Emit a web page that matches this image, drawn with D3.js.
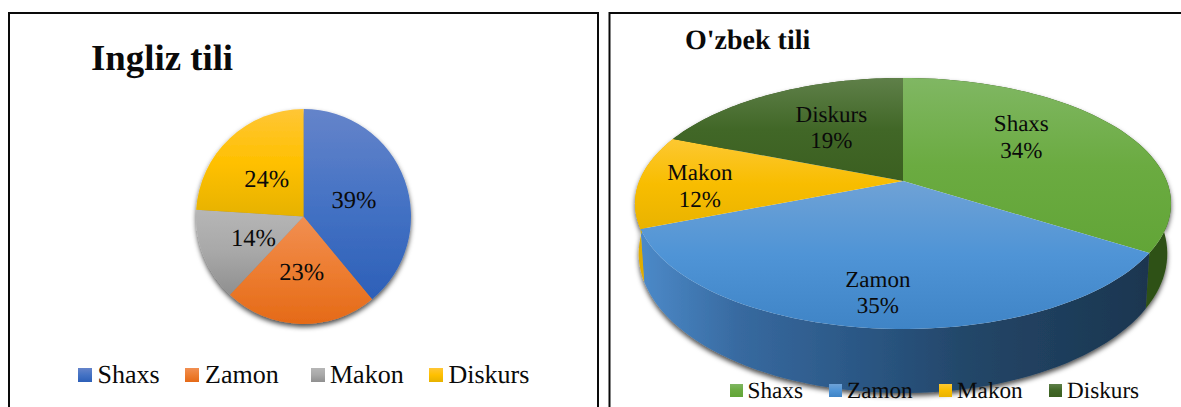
<!DOCTYPE html>
<html>
<head>
<meta charset="utf-8">
<script src="https://cdn.jsdelivr.net/npm/d3@7"></script>
<style>
  html, body { margin: 0; background: #fff; overflow: hidden; }
  text { font-family: "Liberation Serif", serif; fill: #0a0a0a; text-rendering: geometricPrecision; }
</style>
</head>
<body>
<svg id="chart"></svg>
<script>
const categories = ["Shaxs", "Zamon", "Makon", "Diskurs"];
const inglizValues = [39, 23, 14, 24];
const ozbekValues = [34, 35, 12, 19];
const inglizTitle = "Ingliz tili";
const ozbekTitle = "O'zbek tili";

// [top, middle, bottom] of each slice gradient
const inglizColors = [["#6584ca", "#4472c4", "#2d60b8"], ["#f18f52", "#ed7d31", "#e56a17"], ["#b6b6b6", "#a8a8a8", "#8f8f8f"], ["#ffc636", "#ffc000", "#e6b200"]];
const ozbekColors = [["#80b763", "#6bab41", "#62a537"], ["#6fa2d6", "#4f94d6", "#3f84c6"], ["#fdc832", "#f8bd00", "#e9b300"], ["#5f8049", "#416727", "#3b5f20"]];

const w = 1181;
const h = 407;

const svg = d3.select("#chart").attr("width", w).attr("height", h).style("display", "block");
const defs = svg.append("defs");

const shadow = defs.append("filter").attr("id", "shadow")
  .attr("x", "-10%").attr("y", "-10%").attr("width", "120%").attr("height", "125%");
shadow.append("feDropShadow").attr("dx", 0).attr("dy", 3).attr("stdDeviation", 2.5)
  .attr("flood-color", "#000").attr("flood-opacity", 0.7);

const addGradient = (id, stops) => {
  const g = defs.append("linearGradient").attr("id", id).attr("x1", 0).attr("y1", 0).attr("x2", 0).attr("y2", 1);
  stops.forEach((c, i) => g.append("stop").attr("offset", i / (stops.length - 1)).attr("stop-color", c));
};
inglizColors.forEach((c, i) => addGradient("en" + i, c));
ozbekColors.forEach((c, i) => addGradient("uz" + i, c));

const frames = [[9, 589], [609.5, 600]];
frames.forEach(([x, fw]) => {
  svg.append("rect").attr("x", x).attr("y", 13).attr("width", fw).attr("height", 420)
    .attr("fill", "none").attr("stroke", "#0a0a0a").attr("stroke-width", 2);
});

const pie = d3.pie().sort(null);

const drawLegend = (prefix, items, size, fontSize, y, baseline, swatchX, textX) => {
  const g = svg.append("g").selectAll("g").data(items).enter().append("g");
  g.append("rect").attr("x", (d, i) => swatchX[i]).attr("y", y)
    .attr("width", size).attr("height", size)
    .attr("fill", (d, i) => `url(#${prefix}${i})`);
  g.append("text").attr("x", (d, i) => textX[i]).attr("y", baseline)
    .attr("font-size", fontSize).text((d) => d);
};

// flat pie
const enX = 303.5;
const enY = 216.5;
const enR = 107.5;
const enArc = d3.arc().innerRadius(0).outerRadius(enR);
const enLabel = d3.arc().innerRadius(enR * 0.5).outerRadius(enR * 0.5);
const enSlices = pie(inglizValues);

svg.append("text").attr("x", 91).attr("y", 70).attr("font-size", 36.8).attr("font-weight", "bold").text(inglizTitle);

const en = svg.append("g").attr("transform", `translate(${enX},${enY})`);
en.append("g").attr("filter", "url(#shadow)").selectAll("path").data(enSlices).enter().append("path")
  .attr("d", enArc).attr("fill", (d, i) => `url(#en${i})`);
en.selectAll("text").data(enSlices).enter().append("text")
  .attr("transform", (d) => `translate(${enLabel.centroid(d)})`)
  .attr("text-anchor", "middle").attr("dy", "0.38em").attr("font-size", 24.5)
  .text((d) => d.data + "%");

drawLegend("en", categories, 14, 26, 368, 383, [78, 185, 311, 429], [97.5, 205, 330, 448.5]);

// tilted pie, the disc goes through a perspective projection so its centre
// sits above the middle of the ellipse
const uzX = 903;
const project = (p) => (angle, t = 1) => {
  const u = Math.sin(angle) * t;
  const v = Math.cos(angle) * t;
  const d = 1 + p.k * v;
  return [uzX + p.a * u / d, p.cy - p.b * v / d];
};
const topFace = project({ a: 263.7, b: 121.5, cy: 181, k: 0.179 });
const bottomFace = project({ a: 260, b: 135, cy: 228.6, k: 0.179 });
const line = d3.line();
const arcPoints = (face, a0, a1) => d3.range(0, 61).map((i) => face(a0 + (a1 - a0) * i / 60));

const uzSlices = pie(ozbekValues);

svg.append("text").attr("x", 685).attr("y", 49).attr("font-size", 28).attr("font-weight", "bold").text(ozbekTitle);

const wallGrad = defs.append("linearGradient").attr("id", "wallZamon")
  .attr("gradientUnits", "userSpaceOnUse").attr("x1", 640).attr("y1", 0).attr("x2", 1146).attr("y2", 0);
[[0, "#4c8ac9"], [0.2, "#37699f"], [0.45, "#2a5683"], [0.65, "#234668"], [1, "#1b3650"]].forEach(([o, c]) => {
  wallGrad.append("stop").attr("offset", o).attr("stop-color", c);
});
const wallFill = ["#2f5116", "url(#wallZamon)", "#e0ad00", "#2f5116"];

svg.append("g").attr("filter", "url(#shadow)").selectAll("path").data(uzSlices).enter().append("path")
  .attr("d", (d) => line(arcPoints(topFace, d.startAngle, d.endAngle)
    .concat(arcPoints(bottomFace, d.startAngle, d.endAngle).reverse())) + "Z")
  .attr("fill", (d, i) => wallFill[i]);

svg.append("g").selectAll("path").data(uzSlices).enter().append("path")
  .attr("d", (d) => line([topFace(0, 0)].concat(arcPoints(topFace, d.startAngle, d.endAngle))) + "Z")
  .attr("fill", (d, i) => `url(#uz${i})`);

// how far out along the slice's middle each label sits, and a small nudge
const uzLabelT = [0.55, 0.8, 0.77, 0.6];
const uzNudge = [[-3, -14], [-2, -2], [0, 4], [10, 1]];
const uzLabels = svg.append("g").selectAll("text").data(uzSlices).enter().append("text")
  .attr("text-anchor", "middle").attr("font-size", 23);
const labelAt = (d, i) => {
  const [x, y] = topFace((d.startAngle + d.endAngle) / 2, uzLabelT[i]);
  return [x + uzNudge[i][0], y + uzNudge[i][1]];
};
uzLabels.append("tspan").attr("x", (d, i) => labelAt(d, i)[0]).attr("y", (d, i) => labelAt(d, i)[1] - 5)
  .text((d, i) => categories[i]);
uzLabels.append("tspan").attr("x", (d, i) => labelAt(d, i)[0]).attr("y", (d, i) => labelAt(d, i)[1] + 21.5)
  .text((d) => d.data + "%");

drawLegend("uz", categories, 13, 23.2, 384, 398, [730, 829, 939, 1049], [747.5, 847, 957, 1067]);
</script>
</body>
</html>
